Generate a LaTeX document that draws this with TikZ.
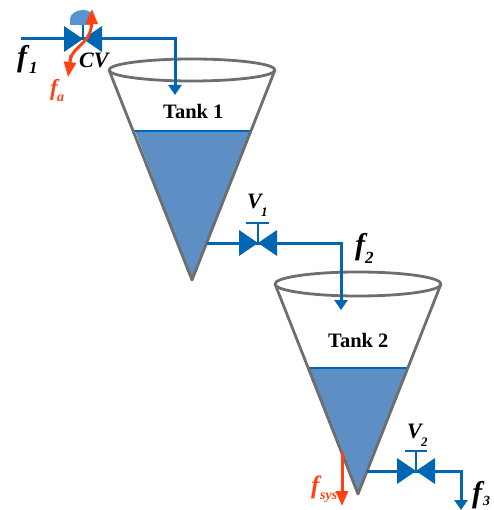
\documentclass[tikz,border=0pt]{standalone}
\usepackage{fontspec}
\setmainfont{Liberation Serif}
\usetikzlibrary{arrows.meta}
\definecolor{pipeblue}{RGB}{0,102,178}
\definecolor{water}{RGB}{93,143,196}
\definecolor{dome}{RGB}{84,150,212}
\definecolor{tankgrey}{RGB}{110,110,110}
\definecolor{flowred}{RGB}{255,66,14}
\tikzset{
  pipe/.style={draw=pipeblue,line width=3pt,line join=miter},
  pipearrow/.style={pipe,-{Triangle[length=10pt,width=13pt]}},
  redarrow/.style={draw=flowred,line width=3pt,-{Triangle[length=15pt,width=12pt]}},
  tankline/.style={draw=tankgrey,line width=2.8pt,line join=round},
  level/.style={draw=pipeblue,line width=2pt},
  valvewing/.style={fill=pipeblue,draw=none},
  labelk/.style={font=\bfseries\itshape,text=black,inner sep=0pt},
  labelr/.style={font=\bfseries\itshape,text=flowred,inner sep=0pt},
  tanklabel/.style={font=\fontsize{20.5}{22}\selectfont\bfseries,inner sep=0pt},
}
\newcommand{\valveat}[2]{%
  \fill[valvewing] (#1-19,#2-13) -- (#1,#2) -- (#1-19,#2+13) -- cycle;
  \fill[valvewing] (#1+19,#2-13) -- (#1,#2) -- (#1+19,#2+13) -- cycle;
}
\begin{document}
\begin{tikzpicture}[x=1pt,y=-1pt]
\useasboundingbox (0,0) rectangle (493,510);
% Coordinates
\coordinate (inlet) at (21,39);
\coordinate (cv) at (83,39);
\coordinate (c1) at (175,39);
\coordinate (c1end) at (175,95);
\coordinate (t1out) at (207,243);
\coordinate (v1) at (258,243);
\coordinate (c2) at (341,243);
\coordinate (c2end) at (341,310);
\coordinate (t2out) at (367,471);
\coordinate (v2) at (416,471);
\coordinate (c3) at (461,471);
\coordinate (c3end) at (461,510);
% Tank 1
\fill[water] (135,131) -- (250,131) -- (192,280) -- cycle;
\draw[level] (134,131) -- (251,131);
\draw[tankline] (109,70) -- (192,280) -- (275,70);
\draw[tankline] (192,70) ellipse [x radius=83,y radius=11];
% Tank 2
\fill[water] (309,368) -- (407,368) -- (358,494) -- cycle;
\draw[level] (308,368) -- (408,368);
\draw[tankline] (275,284) -- (358,494) -- (441,284);
\draw[tankline] (358,284) ellipse [x radius=83,y radius=12];
% Pipes
\draw[pipe] (inlet) -- (cv);
\draw[pipearrow] (cv) -- (c1) -- (c1end);
\draw[pipe] (t1out) -- (v1);
\draw[pipearrow] (v1) -- (c2) -- (c2end);
\draw[pipe] (t2out) -- (v2);
\draw[pipearrow] (v2) -- (c3) -- (c3end);
% Valves
\valveat{83}{39}
\valveat{258}{243}
\valveat{416}{471}
% Stems
\fill[dome] (70,25) -- (70,20) .. controls (70,13) and (77,10) .. (83,10) .. controls (89,10) and (93,13) .. (93,17) -- (93,25) -- cycle;
\draw[pipe,line width=1.6pt] (cv) -- (83,25);
\draw[pipe,line width=1.8pt] (v1) -- (258,223);
\draw[pipe,line width=1.8pt] (246,223) -- (269,223);
\draw[pipe,line width=1.8pt] (v2) -- (416,451);
\draw[pipe,line width=1.8pt] (405,451) -- (427,451);
% Red arrows
\draw[redarrow] (70,60) .. controls (73,46) and (91,44) .. (92,9);
\draw[redarrow] (71,55) -- (68,77);
\draw[redarrow] (342,452) -- (342,506);
% Labels
\node[labelk,font=\fontsize{30}{30}\selectfont\bfseries\itshape,anchor=base west] at (17,67) {f};
\node[labelk,font=\fontsize{17}{17}\selectfont\bfseries\itshape,anchor=base west] at (29,74) {1};
\node[labelk,font=\fontsize{22}{22}\selectfont\bfseries\itshape,anchor=base west] at (79,68) {CV};
\node[labelr,font=\fontsize{23}{23}\selectfont\bfseries\itshape,anchor=base west] at (50,96) {f};
\node[labelr,font=\fontsize{14}{14}\selectfont\bfseries\itshape,anchor=base west] at (57,102) {a};
\node[tanklabel,anchor=base west] at (163,119) {Tank 1};
\node[tanklabel,anchor=base west] at (328,347) {Tank 2};
\node[labelk,font=\fontsize{22}{22}\selectfont\bfseries\itshape,anchor=base west] at (247,209) {V};
\node[labelk,font=\fontsize{13}{13}\selectfont\bfseries\itshape,anchor=base west] at (261,217) {1};
\node[labelk,font=\fontsize{30}{30}\selectfont\bfseries\itshape,anchor=base west] at (355,254) {f};
\node[labelk,font=\fontsize{17}{17}\selectfont\bfseries\itshape,anchor=base west] at (365,263) {2};
\node[labelk,font=\fontsize{22}{22}\selectfont\bfseries\itshape,anchor=base west] at (407,438) {V};
\node[labelk,font=\fontsize{13}{13}\selectfont\bfseries\itshape,anchor=base west] at (421,446) {2};
\node[labelr,font=\fontsize{25}{25}\selectfont\bfseries\itshape,anchor=base west] at (311,493) {f};
\node[labelr,font=\fontsize{14}{14}\selectfont\bfseries\itshape,anchor=base west] at (320,499) {sys};
\node[labelk,font=\fontsize{30}{30}\selectfont\bfseries\itshape,anchor=base west] at (472,502) {f};
\node[labelk,font=\fontsize{14}{14}\selectfont\bfseries\itshape,anchor=base west] at (483,505) {3};
\end{tikzpicture}
\end{document}
